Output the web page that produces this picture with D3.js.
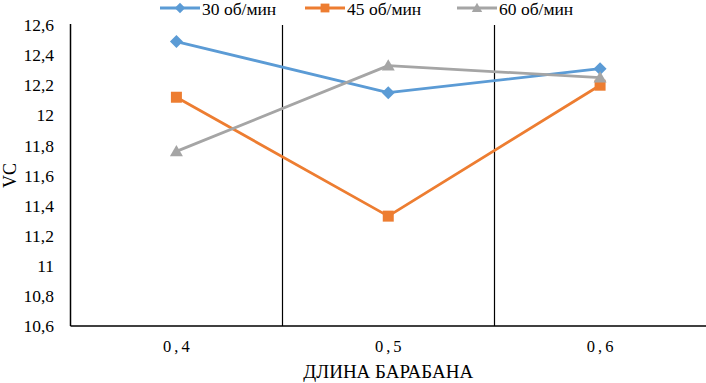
<!DOCTYPE html>
<html>
<head>
<meta charset="utf-8">
<script src="https://cdn.jsdelivr.net/npm/d3@7"></script>
<style>
  html, body { margin: 0; padding: 0; background: #fff; }
</style>
</head>
<body>
<div id="chart"></div>
<script>
const categories = ['0,4', '0,5', '0,6'];
const seriesNames = ['30 об/мин', '45 об/мин', '60 об/мин'];
const rpm30 = [12.49, 12.15, 12.31];
const rpm45 = [12.12, 11.33, 12.20];
const rpm60 = [11.76, 12.33, 12.25];
const yTicks = [10.6, 10.8, 11, 11.2, 11.4, 11.6, 11.8, 12, 12.2, 12.4, 12.6];

const colors = ['#5B9BD5', '#ED7D31', '#A5A5A5'];
const FONT = "'Liberation Serif'";
const series = [rpm30, rpm45, rpm60].map((values, i) => ({ name: seriesNames[i], values }));

const W = 706, H = 383;
const margin = { left: 70.5, right: 0, top: 25, bottom: 57 };

const svg = d3.select('#chart').append('svg')
  .attr('width', W).attr('height', H);

const x = d3.scaleBand().domain(categories)
  .range([margin.left, W - margin.right]);
const y = d3.scaleLinear().domain([10.6, 12.6])
  .range([H - margin.bottom, margin.top]);

const fmt = d => String(d).replace('.', ',');

// marker shapes: diamond (rotated square), square, triangle
function marker(sel, si, scale) {
  const k = scale || 1;
  if (si === 0) {
    const r = 6.5 * k;
    sel.attr('d', `M0,${-r}L${r},0L0,${r}L${-r},0Z`);
  } else if (si === 1) {
    const r = 5.5 * k;
    sel.attr('d', `M${-r},${-r}H${r}V${r}H${-r}Z`);
  } else {
    const r = 6.5 * k;
    sel.attr('d', `M0,${-r}L${r},${r * 0.75}L${-r},${r * 0.75}Z`);
  }
}

// y tick labels
svg.append('g').selectAll('text')
  .data(yTicks).join('text')
  .attr('x', 54).attr('y', d => y(d))
  .attr('dy', '0.35em')
  .attr('text-anchor', 'end')
  .style('font-family', FONT)
  .attr('font-size', 17.5)
  .attr('fill', '#000')
  .text(fmt);

// category separators
svg.append('g').selectAll('line')
  .data(categories.slice(1)).join('line')
  .attr('x1', d => Math.round(x(d)) + 0.5).attr('x2', d => Math.round(x(d)) + 0.5)
  .attr('y1', y(12.6)).attr('y2', y(10.6))
  .attr('stroke', '#000').attr('stroke-width', 1.2);

// axes lines
svg.append('line')
  .attr('x1', margin.left).attr('x2', margin.left)
  .attr('y1', y(12.6) - 1).attr('y2', y(10.6))
  .attr('stroke', '#000').attr('stroke-width', 1.5);
svg.append('line')
  .attr('x1', margin.left).attr('x2', W)
  .attr('y1', y(10.6)).attr('y2', y(10.6))
  .attr('stroke', '#000').attr('stroke-width', 1.5);

// x tick labels
svg.append('g').selectAll('text')
  .data(categories).join('text')
  .attr('x', d => x(d) + x.bandwidth() / 2 + 1.5)
  .attr('y', H - margin.bottom + 26)
  .attr('text-anchor', 'middle')
  .style('font-family', FONT)
  .attr('font-size', 16.5)
  .attr('letter-spacing', 3)
  .text(d => d);

// axis titles
svg.append('text')
  .attr('x', x(categories[1]) + x.bandwidth() / 2)
  .attr('y', H - 5)
  .attr('text-anchor', 'middle')
  .style('font-family', FONT)
  .attr('font-size', 19)
  .text('ДЛИНА БАРАБАНА');
svg.append('text')
  .attr('transform', `translate(16, ${(y(12.6) + y(10.6)) / 2}) rotate(-90)`)
  .attr('text-anchor', 'middle')
  .style('font-family', FONT)
  .attr('font-size', 18)
  .text('VC');

// lines and markers
const line = d3.line()
  .x((d, i) => x(categories[i]) + x.bandwidth() / 2)
  .y(d => y(d));

const sg = svg.append('g').selectAll('g')
  .data(series).join('g');

sg.append('path')
  .attr('d', d => line(d.values))
  .attr('fill', 'none')
  .attr('stroke', (d, i) => colors[i])
  .attr('stroke-width', 2.8)
  .attr('stroke-linejoin', 'round');

sg.each(function (s, si) {
  d3.select(this).selectAll('path.mark')
    .data(s.values).join('path')
    .attr('class', 'mark')
    .attr('transform', (d, i) => `translate(${x(categories[i]) + x.bandwidth() / 2},${y(d)})`)
    .attr('fill', colors[si])
    .call(marker, si);
});

// legend
const legendX = [160, 305, 457];
const lg = svg.append('g').selectAll('g')
  .data(series).join('g')
  .attr('transform', (d, i) => `translate(${legendX[i]}, 8)`);
lg.append('line')
  .attr('x1', 0).attr('x2', 40)
  .attr('stroke', (d, i) => colors[i]).attr('stroke-width', 2.8);
lg.each(function (d, i) {
  d3.select(this).append('path')
    .attr('transform', 'translate(20,0)')
    .attr('fill', colors[i])
    .call(marker, i, 0.8);
});
lg.append('text')
  .attr('x', 42).attr('y', 1).attr('dy', '0.35em')
  .style('font-family', FONT)
  .attr('font-size', 17.5)
  .text(d => d.name);
</script>
</body>
</html>
